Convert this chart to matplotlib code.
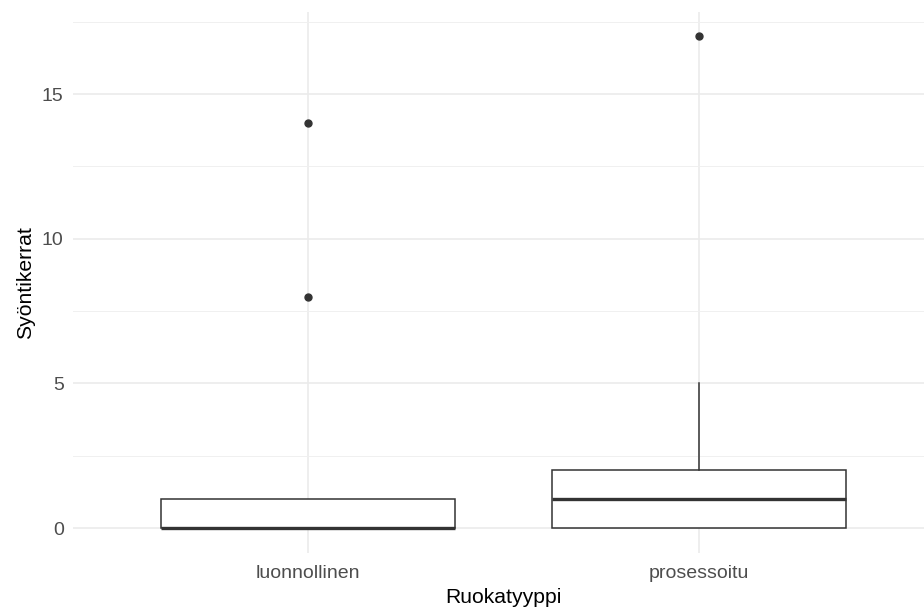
import matplotlib
matplotlib.use('Agg')
import matplotlib.pyplot as plt
from matplotlib.ticker import MultipleLocator

plt.rcParams['font.family'] = ['Liberation Sans', 'DejaVu Sans']

# --- data ---
categories = ['luonnollinen', 'prosessoitu']
q1 = [0, 0]
medians = [0, 1]
q3 = [1, 2]
whisker_low = [0, 0]
whisker_high = [1, 5]
outliers = [[8, 14], [17]]

stats = []
for i, name in enumerate(categories):
    stats.append({
        'label': name,
        'q1': q1[i], 'med': medians[i], 'q3': q3[i],
        'whislo': whisker_low[i], 'whishi': whisker_high[i],
        'fliers': outliers[i],
    })

fig = plt.figure(figsize=(9.24, 6.12), dpi=100)
# panel runs a bit past the right edge, like the cropped original
ax = fig.add_axes([73.4 / 924, (612 - 552.6) / 612, 860.2 / 924, 541 / 612])

box_col = '#333333'
ax.bxp(stats, positions=[1, 2], widths=0.75, patch_artist=True,
       showcaps=False,
       boxprops=dict(facecolor='white', edgecolor=box_col, linewidth=1.1),
       medianprops=dict(color=box_col, linewidth=2.4, solid_capstyle='butt'),
       whiskerprops=dict(color=box_col, linewidth=1.1),
       flierprops=dict(marker='o', markerfacecolor=box_col, markeredgecolor=box_col,
                       markersize=5))

ax.set_xlim(0.4, 2.6)
ax.set_ylim(-0.85, 17.85)
ax.yaxis.set_major_locator(MultipleLocator(5))
ax.yaxis.set_minor_locator(MultipleLocator(2.5))

ax.set_axisbelow(True)
ax.grid(which='major', color='#ebebeb', linewidth=1.2)
ax.grid(which='minor', axis='y', color='#f0f0f0', linewidth=0.7)
for s in ax.spines.values():
    s.set_visible(False)

ax.tick_params(which='both', length=0, labelsize=14, colors='#4d4d4d')
ax.tick_params(axis='x', pad=9)
ax.tick_params(axis='y', pad=7)
ax.set_xticks([1, 2])
ax.set_xticklabels(categories)

ax.set_xlabel('Ruokatyyppi', fontsize=15.2, color='black', labelpad=4.5)
ax.set_ylabel('Syöntikerrat', fontsize=15.2, color='black', labelpad=5)

fig.savefig('out.png', dpi=100, facecolor='white')
